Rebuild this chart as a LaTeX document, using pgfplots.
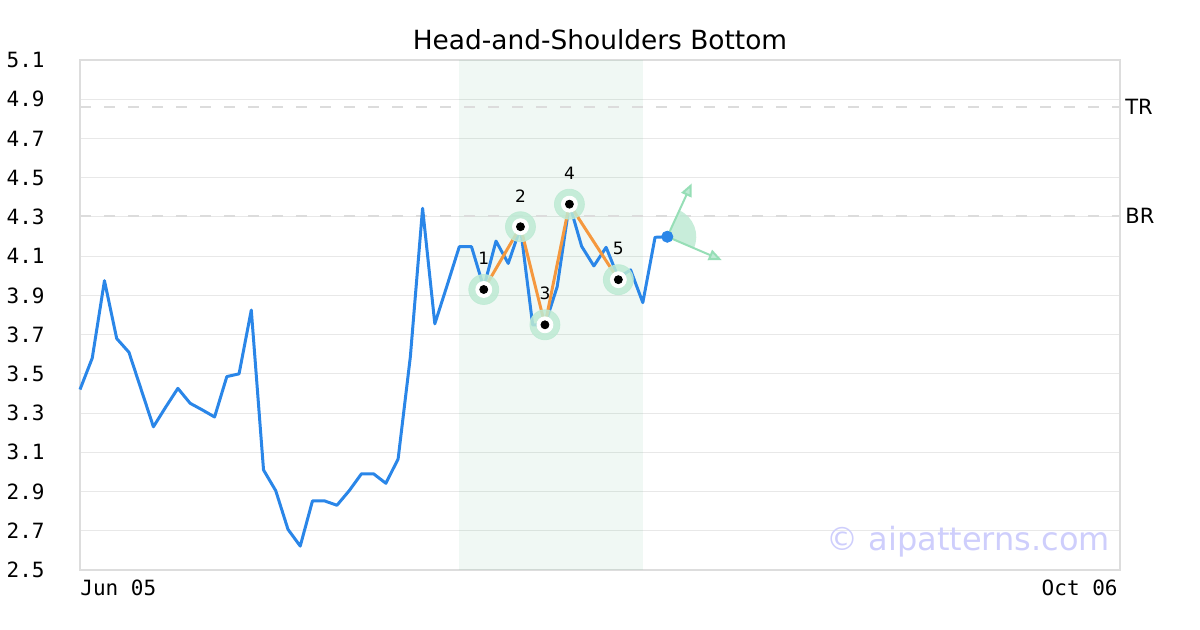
\documentclass[border=0pt]{standalone}
\usepackage{fontspec}
\setmainfont{DejaVu Sans}
\newfontfamily\monofont{DejaVu Sans Mono}
\usepackage{pgfplots}
\pgfplotsset{compat=1.18}
\usetikzlibrary{arrows.meta}
\definecolor{lineblue}{RGB}{42,134,232}
\definecolor{patorange}{RGB}{245,152,62}
\definecolor{mint}{RGB}{190,234,212}
\definecolor{shadegreen}{RGB}{60,170,110}
\definecolor{gridgray}{RGB}{232,232,232}
\definecolor{framegray}{RGB}{221,221,221}
\definecolor{dashgray}{RGB}{220,220,220}
\definecolor{wm}{RGB}{206,206,252}
\definecolor{arrowgreen}{RGB}{150,222,182}
\begin{document}
\begin{tikzpicture}
\useasboundingbox (0,0) rectangle (600pt,315pt);
\begin{axis}[
  at={(40pt,30pt)}, anchor=south west,
  scale only axis, width=520pt, height=255pt,
  xmin=0, xmax=85, ymin=2.5, ymax=5.1,
  axis line style={framegray, line width=1pt},
  ytick={2.5,2.7,2.9,3.1,3.3,3.5,3.7,3.9,4.1,4.3,4.5,4.7,4.9,5.1},
  yticklabels={2.5,2.7,2.9,3.1,3.3,3.5,3.7,3.9,4.1,4.3,4.5,4.7,4.9,5.1},
  ymajorgrids, grid style={gridgray, line width=0.5pt},
  major tick length=0pt,
  yticklabel style={font=\monofont\fontsize{10.5}{12}\selectfont, anchor=east, inner sep=0pt, xshift=-17.5pt},
  xtick={0}, xticklabels={Jun 05},
  xticklabel style={font=\monofont\fontsize{10.5}{12}\selectfont, anchor=north west, inner sep=0pt, yshift=-5pt},
  extra x ticks={85}, extra x tick labels={Oct 06},
  extra x tick style={xticklabel style={anchor=north east, xshift=-1pt}},
  title={Head-and-Shoulders Bottom},
  title style={font=\fontsize{13.2}{15}\selectfont, at={(0.5,1)}, anchor=base, yshift=-1pt},
  clip=false,
]
% pattern window shading
\addplot[draw=none, fill=shadegreen, fill opacity=0.08] coordinates {(31,2.5) (46,2.5) (46,5.1) (31,5.1)} -- cycle;
% TR / BR levels
\addplot[dashgray, line width=1.2pt, dash pattern=on 5.5pt off 6.5pt] coordinates {(0,4.86) (85,4.86)};
\addplot[dashgray, line width=1.2pt, dash pattern=on 5.5pt off 6.5pt] coordinates {(0,4.305) (85,4.305)};
% price
\addplot[lineblue, line width=1.5pt, line join=round] coordinates {
(0,3.42) (1,3.58) (2,3.975) (3,3.68) (4,3.61) (5,3.42) (6,3.23) (7,3.33) (8,3.426) (9,3.35)
(10,3.316) (11,3.28) (12,3.486) (13,3.50) (14,3.825) (15,3.01) (16,2.904) (17,2.707) (18,2.622) (19,2.852)
(20,2.852) (21,2.83) (22,2.904) (23,2.99) (24,2.99) (25,2.942) (26,3.066) (27,3.587) (28,4.344) (29,3.755)
(30,3.95) (31,4.148) (32,4.148) (33,3.94) (34,4.177) (35,4.063) (36,4.245) (37,3.749) (38,3.749) (39,3.944)
(40,4.366) (41,4.15) (42,4.05) (43,4.145) (44,3.99) (45,4.03) (46,3.863) (47,4.196) (48,4.199)
};
% pattern line
\addplot[patorange, line width=1.5pt, line join=round] coordinates {(33,3.93) (36,4.25) (38,3.75) (40,4.365) (44,3.98)};
% projection
\fill[mint, opacity=0.85] (axis cs:48,4.199) -- ++(-23.7:14.5pt) arc[start angle=-23.7, end angle=65, radius=14.5pt] -- cycle;
\addplot[arrowgreen, line width=1pt, -{Triangle[length=6.5pt, width=5.5pt, fill=mint]}] coordinates {(48,4.199) (50.0,4.471)};
\addplot[arrowgreen, line width=1pt, -{Triangle[length=6.5pt, width=5.5pt, fill=mint]}] coordinates {(48,4.199) (52.45,4.08)};
% markers
\addplot[only marks, mark=*, color=mint, opacity=0.85, mark size=7.5pt] coordinates {(33,3.93) (36,4.25) (38,3.75) (40,4.365) (44,3.98)};
\addplot[only marks, mark=*, color=white, mark size=4pt] coordinates {(33,3.93) (36,4.25) (38,3.75) (40,4.365) (44,3.98)};
\addplot[only marks, mark=*, color=black, mark size=2pt] coordinates {(33,3.93) (36,4.25) (38,3.75) (40,4.365) (44,3.98)};
\addplot[only marks, mark=*, color=lineblue, mark size=2.8pt] coordinates {(48,4.199)};
% labels
\node[font=\fontsize{8.5}{10}\selectfont, yshift=15.5pt] at (axis cs:33,3.93) {1};
\node[font=\fontsize{8.5}{10}\selectfont, yshift=15.5pt] at (axis cs:36,4.25) {2};
\node[font=\fontsize{8.5}{10}\selectfont, yshift=15.5pt] at (axis cs:38,3.75) {3};
\node[font=\fontsize{8.5}{10}\selectfont, yshift=15.5pt] at (axis cs:40,4.365) {4};
\node[font=\fontsize{8.5}{10}\selectfont, yshift=15.5pt] at (axis cs:44,3.98) {5};
\node[anchor=west, inner sep=0pt, xshift=2.5pt, font=\fontsize{10.5}{12}\selectfont] at (axis cs:85,4.86) {TR};
\node[anchor=west, inner sep=0pt, xshift=2.5pt, font=\fontsize{10.5}{12}\selectfont] at (axis cs:85,4.305) {BR};
\node[font=\fontsize{16}{19}\selectfont, text=wm] at (axis cs:72.6,2.643) {© aipatterns.com};
\end{axis}
\end{tikzpicture}
\end{document}
